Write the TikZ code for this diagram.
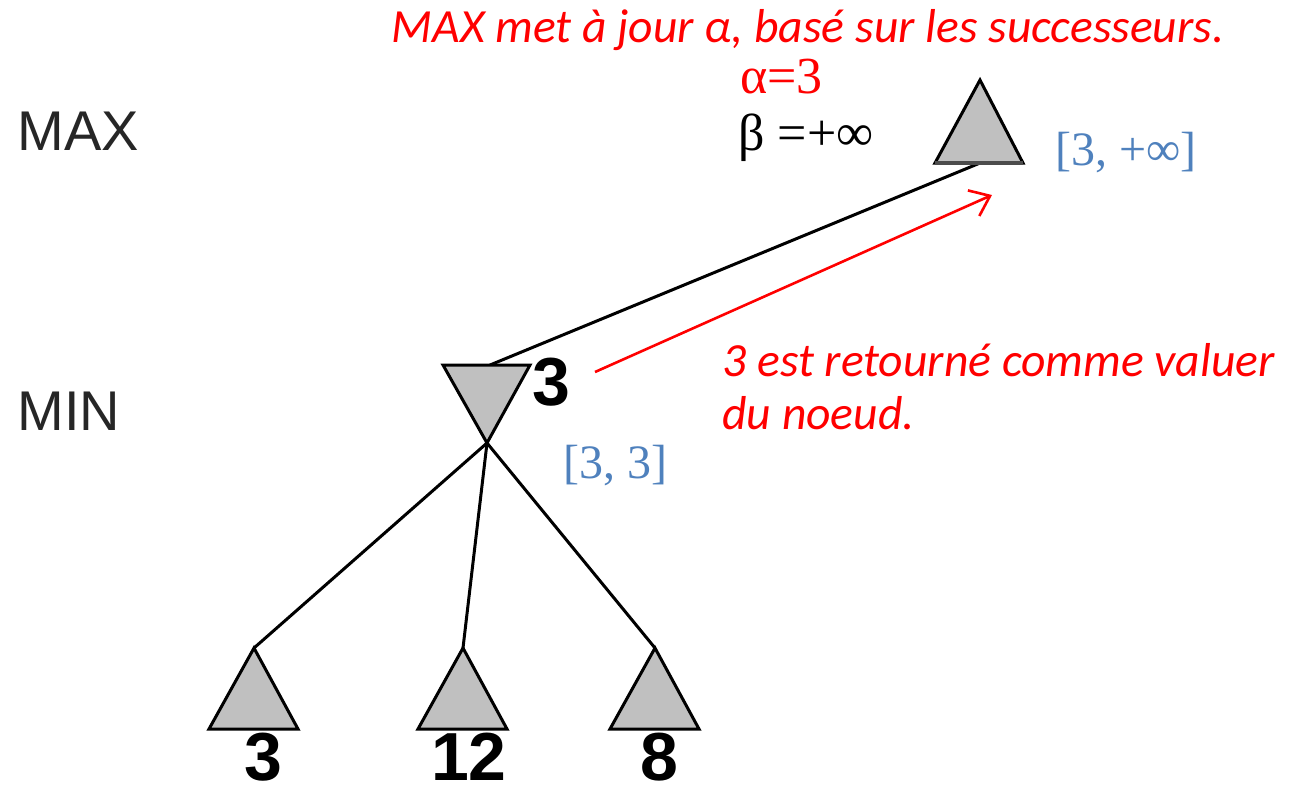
\documentclass[tikz,border=0pt]{standalone}
\usepackage{fontspec}
\setmainfont{Liberation Serif}
\newfontfamily\arialf{Liberation Sans}
\newfontfamily\calf{Carlito}
\usetikzlibrary{arrows.meta}
\definecolor{redtxt}{RGB}{255,0,0}
\definecolor{bluetxt}{RGB}{79,129,189}
\definecolor{trifill}{RGB}{192,192,192}
\begin{document}
\begin{tikzpicture}[x=0.5pt,y=-0.5pt,
  edge/.style={line width=1.5pt, black},
  tri/.style={fill=trifill, draw=black, line width=1.5pt, line join=miter},
  basel/.style={draw=black!70, line width=2pt},
  lvl/.style={inner sep=0pt, font=\arialf\fontsize{28}{32}\selectfont, text=black!85},
  val/.style={inner sep=0pt, font=\arialf\bfseries\fontsize{34}{38}\selectfont},
  rng/.style={inner sep=0pt, font=\fontsize{24}{28}\selectfont, text=bluetxt},
  ab/.style={inner sep=0pt, font=\fontsize{26}{30}\selectfont},
  note/.style={inner sep=0pt, font=\calf\itshape\fontsize{23.8}{28}\selectfont, text=redtxt}]
\useasboundingbox (0,0) rectangle (1301,788);

% coordinates of triangles
\coordinate (maxA) at (980,80);
\coordinate (maxL) at (935,163);
\coordinate (maxR) at (1023,163);
\coordinate (maxB) at (980,163);
\coordinate (minL) at (443,365);
\coordinate (minR) at (530,365);
\coordinate (minA) at (487,443);
\coordinate (minT) at (490,365);
\coordinate (l1A) at (254,648);
\coordinate (l1L) at (209,729);
\coordinate (l1R) at (298,729);
\coordinate (l2A) at (463,648);
\coordinate (l2L) at (418,729);
\coordinate (l2R) at (507,729);
\coordinate (l3A) at (655,648);
\coordinate (l3L) at (610,729);
\coordinate (l3R) at (699,729);

% edges
\draw[edge] (minT) -- (maxB);
\draw[edge] (minA) -- (l1A);
\draw[edge] (minA) -- (l2A);
\draw[edge] (minA) -- (l3A);

% triangles
\draw[tri] (maxA) -- (maxR) -- (maxL) -- cycle;
\draw[basel] (maxL) -- (maxR);
\draw[tri] (minL) -- (minR) -- (minA) -- cycle;
\draw[tri] (l1A) -- (l1R) -- (l1L) -- cycle;
\draw[tri] (l2A) -- (l2R) -- (l2L) -- cycle;
\draw[tri] (l3A) -- (l3R) -- (l3L) -- cycle;

% level labels
\node[lvl, anchor=base west] (lmax) at (17,150) {MAX};
\node[lvl, anchor=base west] (lmin) at (17,430) {MIN};

% values
\node[val] (v1) at (263,757) {3};
\node[val] (v2) at (469,757) {12};
\node[val] (v3) at (659,757) {8};
\node[val] (vmin) at (551,382) {3};

% ranges
\node[rng, anchor=base west] (rmax) at (1055,165) {[3, +∞]};
\node[rng, anchor=base west] (rmin) at (563,478) {[3, 3]};

% alpha beta
\node[ab, anchor=base west, text=redtxt] (alpha) at (740,93) {α=3};
\node[ab, anchor=base west] (beta) at (738,150) {β =+∞};

% notes
\node[note, anchor=base] (title) at (808,42) {MAX met à jour α, basé sur les successeurs.};
\node[note, anchor=base west] (n1) at (722,376) {3 est retourné comme valuer};
\node[note, anchor=base west] (n2) at (722,429) {du noeud.};

% red arrow
\coordinate (arrS) at (595,372);
\coordinate (arrE) at (992,195);
\draw[redtxt, line width=1.3pt, -{Straight Barb[length=9pt,width=14pt,line width=1.3pt]}] (arrS) -- (arrE);
\end{tikzpicture}
\end{document}
